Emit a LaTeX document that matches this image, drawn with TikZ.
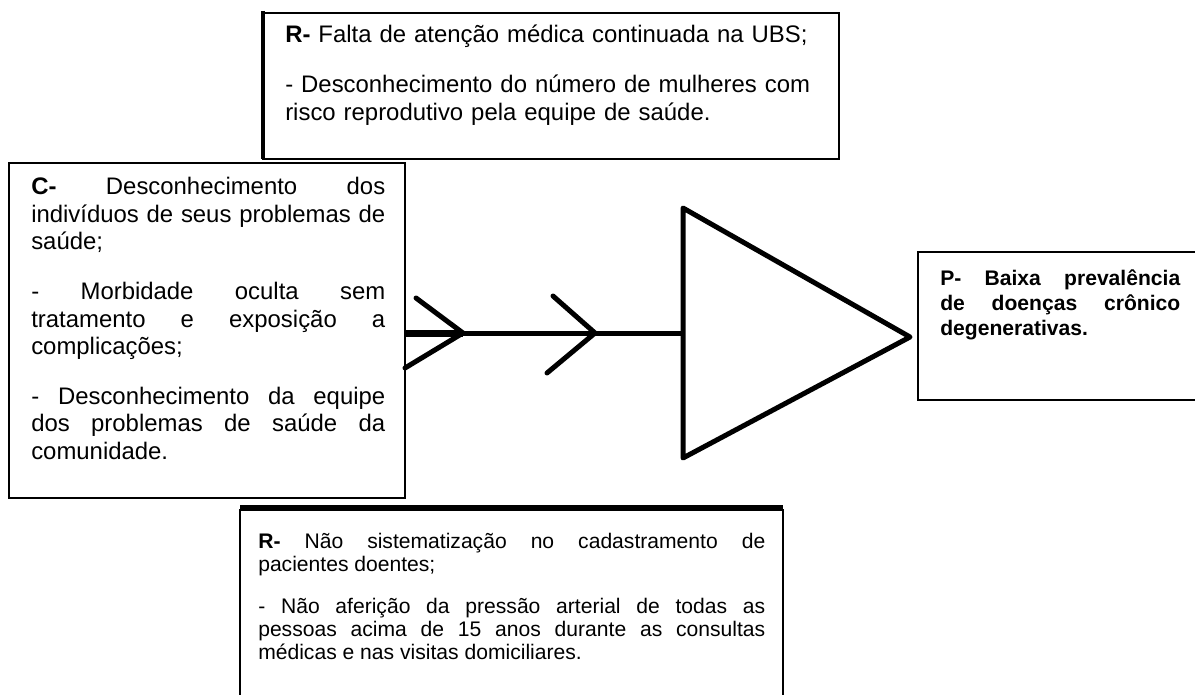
\documentclass[tikz,border=0pt]{standalone}
\usepackage{fontspec}
\setmainfont{Liberation Sans}

\begin{document}
\begin{tikzpicture}[x=0.025cm,y=-0.025cm]
    \pgfmathsetmacro{\px}{0.025}
    \pgfmathsetmacro{\thinline}{1.6}
    \pgfmathsetmacro{\boneline}{5}
    \pgfmathsetmacro{\paragap}{16}
    \providecommand{\causefontsize}{\fontsize{17pt}{19.5pt}\selectfont}
    \providecommand{\problemfontsize}{\fontsize{15pt}{17.8pt}\selectfont}
    \providecommand{\rootfontsize}{\fontsize{15pt}{16.4pt}\selectfont}
    \tikzset{
        boxframe/.style={line width=\thinline*\px*1cm},
        bone/.style={line width=\boneline*\px*1cm,line cap=round,line join=round},
        cause/.style={anchor=base west,inner sep=0,font=\causefontsize,align=justify},
    }
    \fill[white] (0,0) rectangle (1195,695);
    \useasboundingbox (0,0) rectangle (1195,695);
    % boxes
    \draw[boxframe] (263,13) rectangle (839,159);
    \draw[line width=3.5*\px*1cm] (263,11) -- (263,159);
    \draw[boxframe] (9,163) rectangle (405,498);
    \draw[boxframe] (918,252) rectangle (1200,400);
    \draw[boxframe] (240,510) rectangle (783,700);
    \draw[line width=6*\px*1cm] (240,508) -- (783,508);
    \node[cause,text width=545*\px*1cm,align=left] (topcause) at (285,43) {%
        \textbf{R-} Falta de atenção médica continuada na UBS;\par\vspace{\paragap pt}
        - Desconhecimento do número de mulheres com\\risco reprodutivo pela equipe de saúde.};
    \node[cause,text width=354*\px*1cm] (leftcause) at (31,195) {%
        \hyphenpenalty=10000\tolerance=10000
        \textbf{C-} Desconhecimento dos\linebreak indivíduos de seus problemas de\linebreak saúde;\par\vspace{\paragap pt}
        - Morbidade oculta sem\linebreak tratamento e exposição a\linebreak complicações;\par\vspace{\paragap pt}
        - Desconhecimento da equipe\linebreak dos problemas de saúde da\linebreak comunidade.};
    \node[cause,text width=240*\px*1cm,font=\problemfontsize\bfseries] (problem) at (940,285) {%
        \hyphenpenalty=10000\tolerance=10000
        P- Baixa prevalência\linebreak de doenças crônico\linebreak degenerativas.};
    \node[cause,text width=507*\px*1cm,font=\rootfontsize] (bottomcause) at (258,548) {%
        \hyphenpenalty=10000\tolerance=10000
        \textbf{R-} Não sistematização no cadastramento de\linebreak pacientes doentes;\par\vspace{14pt}
        - Não aferição da pressão arterial de todas as\linebreak pessoas acima de 15 anos durante as consultas\linebreak médicas e nas visitas domiciliares.};
    % fish
    \coordinate (tail) at (405,333);
    \coordinate (head) at (683,333);
    \coordinate (headtop) at (683,208);
    \coordinate (tip) at (910,337);
    \coordinate (headbottom) at (683,458);
    \draw[bone,line cap=butt] (tail) -- (head);
    \draw[line width=7*\px*1cm] (tail) -- (463,333);
    \draw[bone] (416,298) -- (463,333) -- (405,368);
    \draw[bone] (553,296) -- (595,333) -- (547,373);
    \draw[bone] (headtop) -- (tip) -- (headbottom) -- cycle;
\end{tikzpicture}
\end{document}
